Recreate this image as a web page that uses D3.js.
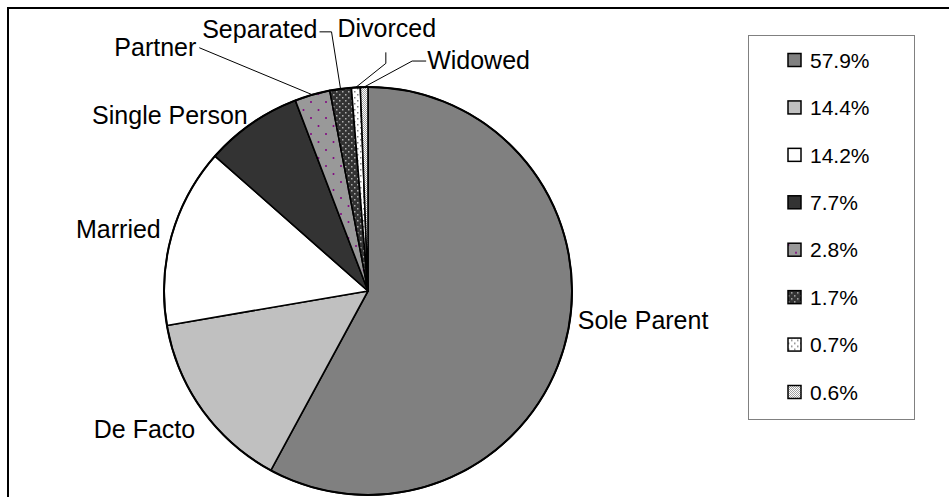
<!DOCTYPE html>
<html>
<head>
<meta charset="utf-8">
<script src="https://cdn.jsdelivr.net/npm/d3@7"></script>
<style>
  html, body { margin: 0; padding: 0; background: #fff; }
  text { font-family: "Liberation Sans", Arial, sans-serif; fill: #000; }
</style>
</head>
<body>
<script>
// data
const categories = ['Sole Parent', 'De Facto', 'Married', 'Single Person', 'Partner', 'Separated', 'Divorced', 'Widowed'];
const shares = [57.9, 14.4, 14.2, 7.7, 2.8, 1.7, 0.7, 0.6];
const legendLabels = ['57.9%', '14.4%', '14.2%', '7.7%', '2.8%', '1.7%', '0.7%', '0.6%'];

const width = 949, height = 497;
const cx = 368, cy = 291, radius = 204;

const fills = ['#808080', '#c0c0c0', '#ffffff', '#333333',
               'url(#pPartner)', 'url(#pSeparated)', 'url(#pDivorced)', 'url(#pWidowed)'];

// label placement, offsets from the slice's mid point on the rim
const labelLayout = [
  { dx: 12, dy: -12, anchor: 'start', leader: null },
  { dx: -7, dy: 28, anchor: 'end', leader: null },
  { dx: -11, dy: 3, anchor: 'end', leader: null },
  { dx: -4, dy: 1, anchor: 'end', leader: null },
  { dx: -116, dy: -39, anchor: 'end', leader: [[-113, -47]] },
  { dx: -23, dy: -51, anchor: 'end', leader: [[-9, -57], [-21, -57]] },
  { dx: 31, dy: -50, anchor: 'middle', leader: [[30, -24], [30, -35]] },
  { dx: 63, dy: -18, anchor: 'start', leader: [[48, -26], [62, -26]] }
];

const svg = d3.select('body').append('svg')
    .attr('width', width).attr('height', height);

// patterns
const defs = svg.append('defs');

const pPartner = defs.append('pattern').attr('id', 'pPartner')
    .attr('patternUnits', 'userSpaceOnUse').attr('width', 15).attr('height', 16);
pPartner.append('rect').attr('width', 15).attr('height', 16).attr('fill', '#999999');
pPartner.append('circle').attr('cx', 3).attr('cy', 3).attr('r', 1).attr('fill', '#800080');
pPartner.append('circle').attr('cx', 10.5).attr('cy', 11).attr('r', 1).attr('fill', '#800080');

const pSep = defs.append('pattern').attr('id', 'pSeparated')
    .attr('patternUnits', 'userSpaceOnUse').attr('width', 6).attr('height', 6);
pSep.append('rect').attr('width', 6).attr('height', 6).attr('fill', '#333333');
pSep.append('rect').attr('x', 1).attr('y', 1).attr('width', 1.5).attr('height', 1.5).attr('fill', '#b0b0b0');
pSep.append('rect').attr('x', 4).attr('y', 4).attr('width', 1.5).attr('height', 1.5).attr('fill', '#b0b0b0');

const pDiv = defs.append('pattern').attr('id', 'pDivorced')
    .attr('patternUnits', 'userSpaceOnUse').attr('width', 6).attr('height', 6);
pDiv.append('rect').attr('width', 6).attr('height', 6).attr('fill', '#ffffff');
pDiv.append('rect').attr('x', 1).attr('y', 1).attr('width', 1.5).attr('height', 1.5).attr('fill', '#808080');
pDiv.append('rect').attr('x', 4).attr('y', 4).attr('width', 1.5).attr('height', 1.5).attr('fill', '#808080');

const pWid = defs.append('pattern').attr('id', 'pWidowed')
    .attr('patternUnits', 'userSpaceOnUse').attr('width', 2).attr('height', 2);
pWid.append('rect').attr('width', 2).attr('height', 2).attr('fill', '#ffffff');
pWid.append('rect').attr('width', 1).attr('height', 1).attr('fill', '#a0a0a0');
pWid.append('rect').attr('x', 1).attr('y', 1).attr('width', 1).attr('height', 1).attr('fill', '#a0a0a0');

// outer frame (runs off the right and bottom edge)
svg.append('path')
    .attr('d', `M8,${height + 5}V8H${width + 5}`)
    .attr('fill', 'none').attr('stroke', '#000').attr('stroke-width', 2);

// pie
const pie = d3.pie().sort(null).value(d => d);
const arcs = pie(shares);
const arc = d3.arc().innerRadius(0).outerRadius(radius);
const rim = d3.arc().innerRadius(radius).outerRadius(radius);

const g = svg.append('g').attr('transform', `translate(${cx},${cy})`);

g.selectAll('path.slice')
  .data(arcs)
  .join('path')
    .attr('class', 'slice')
    .attr('d', arc)
    .attr('fill', (d, i) => fills[i])
    .attr('stroke', '#000')
    .attr('stroke-width', 1.6)
    .attr('stroke-linejoin', 'round');

g.append('circle')
    .attr('r', radius)
    .attr('fill', 'none')
    .attr('stroke', '#000')
    .attr('stroke-width', 2);

// leader lines and labels
const line = d3.line();
arcs.forEach((d, i) => {
  const [px, py] = rim.centroid(d);
  const lay = labelLayout[i];
  if (lay.leader) {
    const pts = [[px, py]].concat(lay.leader.map(p => [px + p[0], py + p[1]]));
    g.append('path')
        .attr('d', line(pts))
        .attr('fill', 'none')
        .attr('stroke', '#000')
        .attr('stroke-width', 1);
  }
  g.append('text')
      .attr('x', px + lay.dx)
      .attr('y', py + lay.dy)
      .attr('text-anchor', lay.anchor)
      .style('font-size', '25px')
      .text(categories[i]);
});

// legend
const legend = svg.append('g').attr('transform', 'translate(748,35)');
legend.append('rect')
    .attr('x', 0.5).attr('y', 0.5)
    .attr('width', 166).attr('height', 384)
    .attr('fill', '#fff')
    .attr('stroke', '#808080')
    .attr('stroke-width', 1);

const ly = d3.scalePoint()
    .domain(legendLabels)
    .range([25, 357]);

const item = legend.selectAll('g.item')
  .data(legendLabels)
  .join('g')
    .attr('class', 'item')
    .attr('transform', d => `translate(0,${ly(d)})`);

item.append('rect')
    .attr('x', 40).attr('y', -6.5)
    .attr('width', 13).attr('height', 13)
    .attr('fill', (d, i) => fills[i])
    .attr('stroke', '#000')
    .attr('stroke-width', 1.5);

item.append('text')
    .attr('x', 62)
    .attr('y', 7.7)
    .style('font-size', '21px')
    .text(d => d);
</script>
</body>
</html>
